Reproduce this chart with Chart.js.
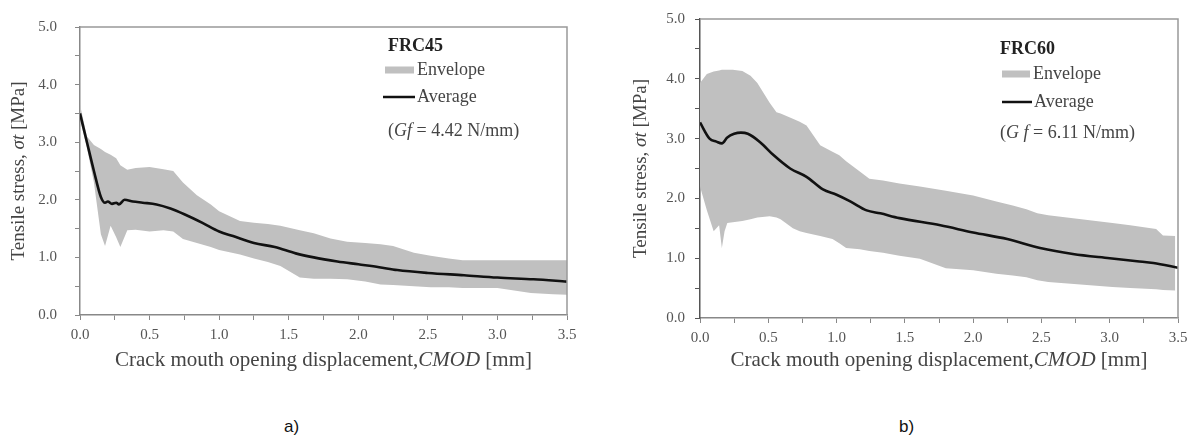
<!DOCTYPE html>
<html><head><meta charset="utf-8">
<script src="https://cdn.jsdelivr.net/npm/chart.js@4.4.0/dist/chart.umd.min.js"></script>
<style>
body{margin:0;background:#fff;width:1197px;height:441px;overflow:hidden;position:relative;}
#c1{position:absolute;left:0;top:0;}
#c2{position:absolute;left:600px;top:0;}
.lab{position:absolute;font-family:"Liberation Sans",Arial,sans-serif;font-size:17px;color:#111;}
</style></head><body>
<canvas id="c1" width="600" height="380"></canvas>
<canvas id="c2" width="597" height="380"></canvas>
<div class="lab" style="left:284px;top:417px">a)</div>
<div class="lab" style="left:899px;top:417px">b)</div>
<script>
// ---------- FRC45 (a) ----------
const avgX45 = [0,0.05,0.1,0.15,0.18,0.2,0.23,0.26,0.28,0.32,0.38,0.45,0.55,0.65,0.75,0.88,1.0,1.1,1.25,1.4,1.55,1.68,1.85,2.0,2.15,2.28,2.5,2.76,3.0,3.26,3.5];
const avgY45 = [3.5,3.0,2.5,2.05,1.95,1.97,1.93,1.95,1.92,2.0,1.97,1.95,1.92,1.85,1.75,1.6,1.45,1.37,1.25,1.18,1.07,1.0,0.93,0.88,0.83,0.78,0.73,0.69,0.65,0.62,0.58];
const envX45 = [0,0.05,0.1,0.15,0.18,0.22,0.26,0.29,0.34,0.4,0.5,0.6,0.67,0.74,0.84,0.94,1.0,1.15,1.25,1.35,1.44,1.58,1.68,1.8,1.92,2.05,2.16,2.25,2.4,2.52,2.65,2.75,3.0,3.24,3.4,3.5];
const envHi45 = [3.65,3.1,2.95,2.88,2.83,2.78,2.72,2.6,2.52,2.55,2.57,2.53,2.5,2.3,2.08,1.92,1.8,1.63,1.6,1.58,1.55,1.47,1.42,1.33,1.27,1.25,1.23,1.2,1.08,1.03,0.98,0.95,0.95,0.95,0.95,0.95];
const envLo45 = [3.4,2.9,2.3,1.4,1.2,1.55,1.35,1.18,1.47,1.48,1.45,1.47,1.45,1.32,1.25,1.18,1.13,1.05,0.98,0.92,0.85,0.65,0.63,0.63,0.62,0.58,0.53,0.52,0.5,0.48,0.48,0.47,0.47,0.38,0.36,0.35];

// ---------- FRC60 (b) ----------
const avgX60 = [0,0.07,0.12,0.16,0.2,0.25,0.3,0.35,0.44,0.54,0.66,0.78,0.9,1.0,1.1,1.22,1.32,1.46,1.76,2.0,2.25,2.49,2.73,3.0,3.2,3.32,3.5];
const avgY60 = [3.27,3.0,2.95,2.92,3.02,3.08,3.1,3.08,2.94,2.72,2.5,2.36,2.15,2.06,1.95,1.8,1.75,1.67,1.55,1.43,1.32,1.17,1.07,1.0,0.95,0.92,0.84];
const envX60 = [0,0.05,0.1,0.14,0.16,0.18,0.2,0.24,0.31,0.37,0.42,0.51,0.56,0.59,0.68,0.73,0.78,0.88,0.97,1.02,1.07,1.17,1.24,1.34,1.46,1.61,1.8,2.0,2.17,2.29,2.39,2.47,2.55,3.02,3.15,3.34,3.39,3.48];
const envHi60 = [3.93,4.08,4.12,4.14,4.15,4.15,4.15,4.15,4.13,4.05,3.93,3.6,3.44,3.42,3.33,3.28,3.22,2.89,2.78,2.72,2.62,2.45,2.33,2.3,2.25,2.2,2.13,2.05,1.95,1.88,1.82,1.75,1.72,1.59,1.55,1.49,1.38,1.37];
const envLo60 = [2.2,1.8,1.45,1.55,1.17,1.45,1.59,1.6,1.62,1.65,1.68,1.7,1.68,1.65,1.5,1.45,1.42,1.37,1.32,1.25,1.17,1.15,1.12,1.09,1.04,0.99,0.83,0.8,0.74,0.71,0.68,0.63,0.6,0.52,0.5,0.48,0.47,0.46];

// axis title pieces: [text, italic?]
const xTitleParts = [['Crack mouth opening displacement,', false], ['CMOD', true], [' [mm]', false]];
const yTitleParts = [['Tensile stress, ', false], ['σt', true], [' [MPa]', false]];
const ENV = 'rgb(192,192,192)';
const SERIF = '"Liberation Serif","Times New Roman",serif';

function pts(xs, ys){ return xs.map((x,i)=>({x:x, y:ys[i]})); }

function drawParts(ctx, parts, size, cx, cy) {
  const fonts = parts.map(p => (p[1] ? 'italic ' : '') + size + 'px ' + SERIF);
  let total = 0;
  const widths = parts.map((p,i) => { ctx.font = fonts[i]; const w = ctx.measureText(p[0]).width; total += w; return w; });
  let x = cx - total/2;
  ctx.textAlign = 'left'; ctx.textBaseline = 'middle';
  parts.forEach((p,i) => { ctx.font = fonts[i]; ctx.fillText(p[0], x, cy); x += widths[i]; });
}

const decor = {
  id: 'decor',
  afterDraw(chart, args, o) {
    const {ctx, chartArea: a} = chart;
    ctx.save();
    // frame top/right
    ctx.strokeStyle = '#999'; ctx.lineWidth = 1.5;
    ctx.beginPath(); ctx.moveTo(a.left, a.top); ctx.lineTo(a.right, a.top); ctx.lineTo(a.right, a.bottom); ctx.stroke();
    // axis titles
    ctx.fillStyle = '#444';
    drawParts(ctx, xTitleParts, 21, (a.left + a.right)/2, o.xTitleY);
    ctx.save();
    ctx.translate(o.yTitleX, (a.top + a.bottom)/2);
    ctx.rotate(-Math.PI/2);
    drawParts(ctx, yTitleParts, 19, 0, 0);
    ctx.restore();
    // legend block
    const L = o.legend;
    ctx.textBaseline = 'middle'; ctx.textAlign = 'left';
    ctx.font = 'bold 18px ' + SERIF; ctx.fillStyle = '#222';
    ctx.fillText(L.title, L.x, L.y0);
    ctx.fillStyle = ENV; ctx.fillRect(L.px0, L.y1 - 3.5, L.px1 - L.px0, 7);
    ctx.font = '18px ' + SERIF; ctx.fillStyle = '#444';
    ctx.fillText('Envelope', L.tx1, L.y1);
    ctx.strokeStyle = '#111'; ctx.lineWidth = 2.5;
    ctx.beginPath(); ctx.moveTo(L.lx0, L.y2); ctx.lineTo(L.lx1, L.y2); ctx.stroke();
    ctx.fillText('Average', L.tx2, L.y2);
    let x = L.x;
    ctx.font = '18px ' + SERIF;
    ctx.fillText('(', x, L.y3); x += ctx.measureText('(').width;
    ctx.font = 'italic 18px ' + SERIF;
    ctx.fillText(L.gSym, x, L.y3); x += ctx.measureText(L.gSym).width;
    ctx.font = '18px ' + SERIF;
    ctx.fillText(L.gVal, x, L.y3);
    ctx.restore();
  }
};

function makeChart(id, avg, envHi, envLo, cfg) {
  return new Chart(document.getElementById(id), {
    type: 'line',
    data: { datasets: [
      { data: avg, borderColor: '#111', borderWidth: 2.6, pointRadius: 0, cubicInterpolationMode: 'monotone', fill: false },
      { data: envHi, borderWidth: 0, borderColor: ENV, backgroundColor: ENV, pointRadius: 0, fill: 2 },
      { data: envLo, borderWidth: 0, borderColor: ENV, backgroundColor: ENV, pointRadius: 0, fill: false }
    ]},
    options: {
      responsive: false, animation: false, events: [],
      layout: { padding: { left: 0, top: cfg.padTop, right: cfg.padRight, bottom: 0 } },
      plugins: { legend: {display:false}, tooltip: {enabled:false},
                 decor: { legend: cfg.legend, xTitleY: 360, yTitleX: cfg.yTitleX } },
      scales: {
        x: {
          type: 'linear', min: 0, max: 3.5,
          afterFit: s => { s.height = cfg.xH; },
          ticks: { stepSize: 0.25, maxTicksLimit: 100, autoSkip: false, maxRotation: 0, padding: 6,
                   font: {family: SERIF, size: 15}, color: '#555',
                   callback: v => (Math.abs(v*2 - Math.round(v*2)) < 1e-6 ? v.toFixed(1) : '') },
          grid: { drawOnChartArea: false, drawTicks: true, tickLength: 5, tickColor: '#888' },
          border: { color: '#888', width: 1.5 },
          title: { display: false }
        },
        y: {
          type: 'linear', min: 0, max: 5,
          afterFit: s => { s.width = cfg.yW; },
          ticks: { stepSize: 0.5, maxTicksLimit: 100, autoSkip: false, padding: cfg.yPad,
                   font: {family: SERIF, size: 15}, color: '#555',
                   callback: v => (Math.abs(v - Math.round(v)) < 1e-6 ? v.toFixed(1) : '') },
          grid: { drawOnChartArea: false, drawTicks: true, tickLength: 5, tickColor: cfg.yAxisColor },
          border: { color: cfg.yAxisColor, width: 1.5 },
          title: { display: false }
        }
      }
    },
    plugins: [decor]
  });
}

makeChart('c1', pts(avgX45, avgY45), pts(envX45, envHi45), pts(envX45, envLo45), {
  padTop: 15, padRight: 33, xH: 65, yW: 80, yPad: 18, yTitleX: 19, yAxisColor: '#888',
  legend: { title: 'FRC45', x: 388, y0: 46, px0: 385, px1: 414, tx1: 417, y1: 70, lx0: 383, lx1: 415, tx2: 417, y2: 97, y3: 131, gSym: 'Gf', gVal: ' = 4.42 N/mm)' }
});
makeChart('c2', pts(avgX60, avgY60), pts(envX60, envHi60), pts(envX60, envLo60), {
  padTop: 16, padRight: 19, xH: 62, yW: 100, yPad: 10, yTitleX: 41, yAxisColor: '#555',
  legend: { title: 'FRC60', x: 400, y0: 49, px0: 402, px1: 430, tx1: 433, y1: 74, lx0: 402, lx1: 432, tx2: 434, y2: 102, y3: 133, gSym: 'G f', gVal: ' = 6.11 N/mm)' }
});
</script>
</body></html>
